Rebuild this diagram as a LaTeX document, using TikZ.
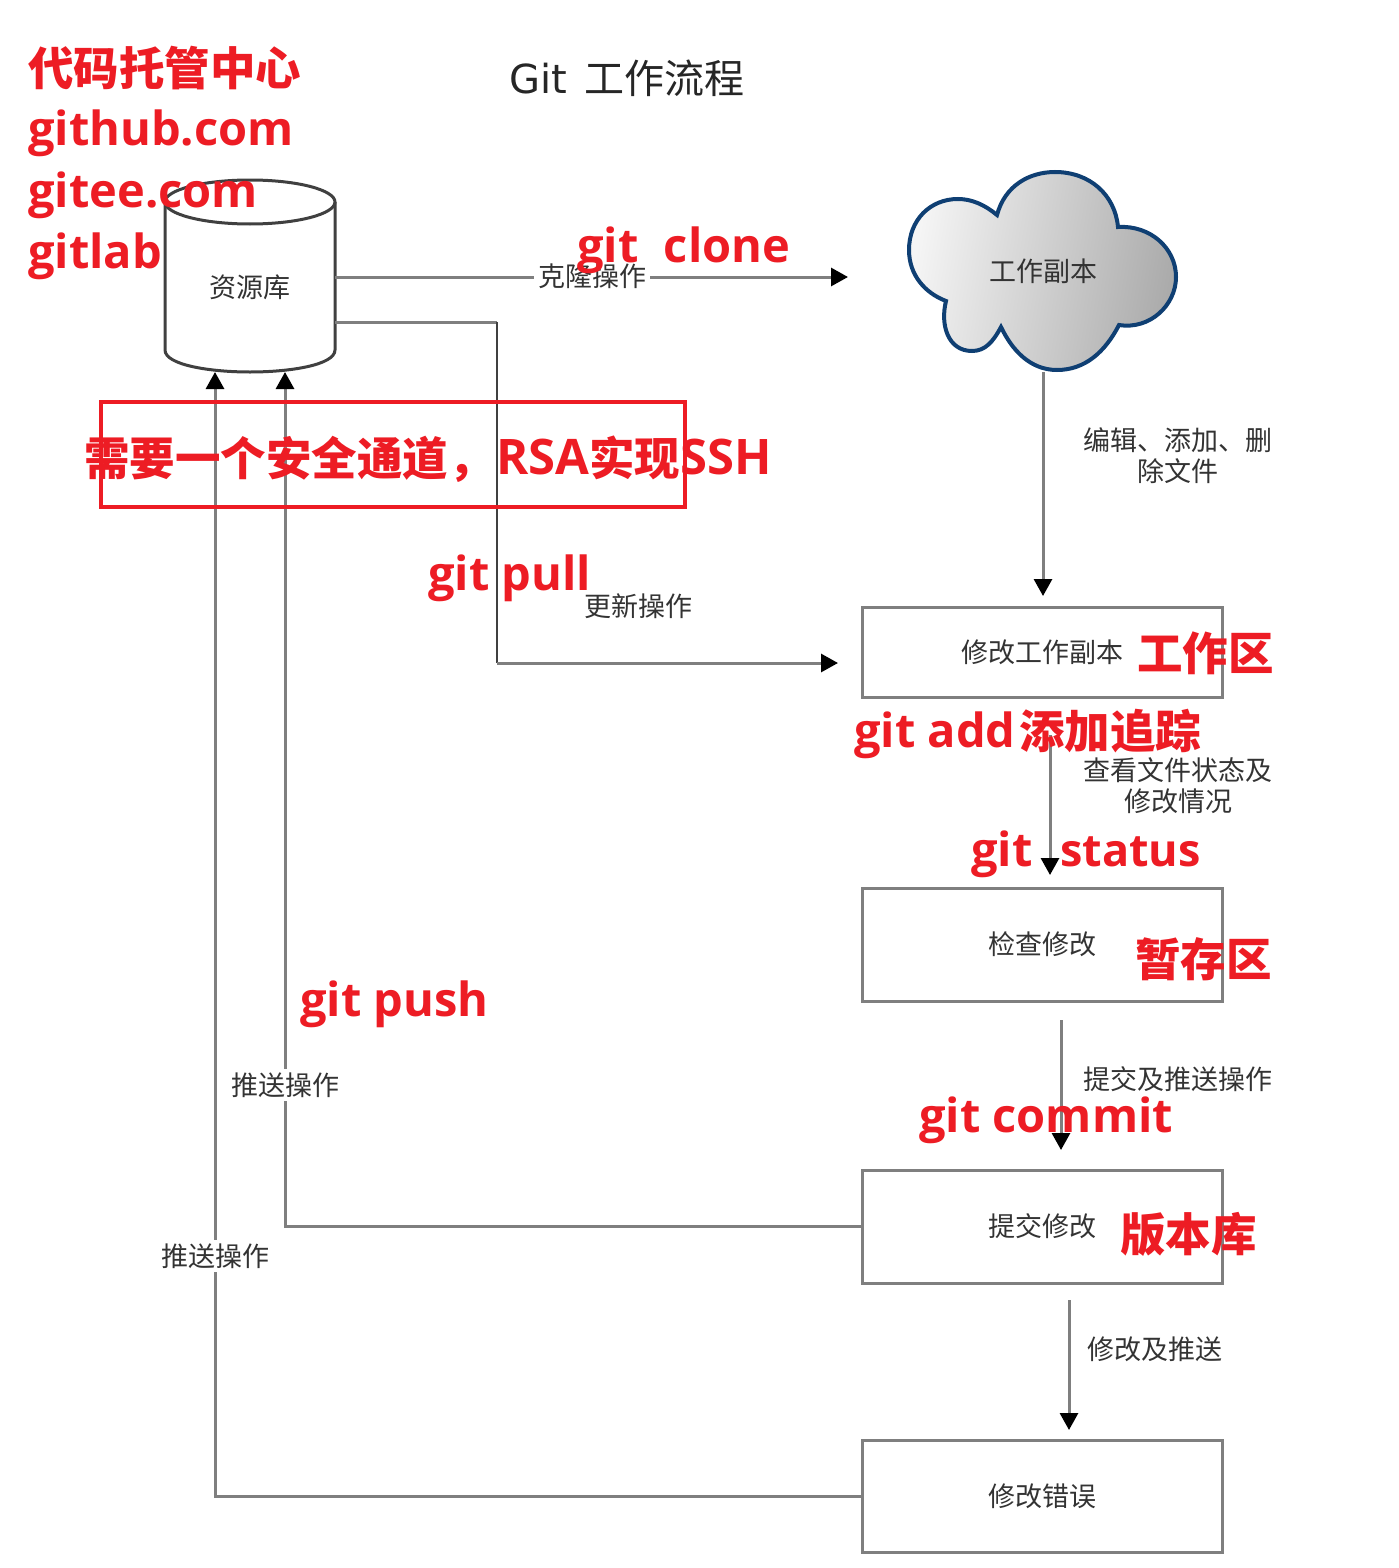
\documentclass[tikz,border=0pt]{standalone}
\usepackage{fontspec}
\usetikzlibrary{arrows.meta}
\setmainfont{DejaVu Sans}
\newfontfamily\cjkfont{Noto Sans CJK SC}
\newfontfamily\latfont{Open Sans}
\definecolor{noteRed}{HTML}{ED1C24}
\definecolor{lineGray}{HTML}{7F7F7F}
\definecolor{textGray}{HTML}{333333}
\definecolor{cloudBlue}{HTML}{0F3F73}
\tikzset{
  flow/.style={draw=lineGray,line width=3pt},
  flowarrow/.style={flow,-{Triangle[length=17pt,width=18pt,fill=black,color=black]}},
  workbox/.style={draw=lineGray,line width=3pt,minimum width=360pt,inner sep=0pt},
  label/.style={font=\cjkfont\fontsize{27}{31}\selectfont,text=textGray,align=center,inner sep=0pt},
  linelabel/.style={label,fill=white,inner sep=4pt},
  note/.style={anchor=base west,inner sep=0pt,text=noteRed,font=\bfseries\fontsize{45.5}{54}\selectfont\cjkfont},
  latnote/.style={anchor=base west,inner sep=0pt,text=noteRed,font=\bfseries\fontsize{47}{56}\selectfont\latfont},
  bignote/.style={latnote,font=\bfseries\fontsize{49}{56}\selectfont\latfont}
}
\begin{document}
\begin{tikzpicture}[x=1pt,y=-1pt]
  \useasboundingbox (0,0) rectangle (1398,1568);
  % repository and cloud
  \draw[black!75,line width=3pt] (250,202) ellipse [x radius=85,y radius=22];
  \draw[black!75,line width=3pt] (165,202) -- (165,350)
    .. controls (165,365) and (210,372) .. (250,372)
    .. controls (290,372) and (335,365) .. (335,350) -- (335,202);
  \node[label] (repo) at (250,287) {资源库};
  \draw[cloudBlue,line width=4pt,left color=black!4,right color=black!33,shading angle=80]
    (997,215) .. controls (1005,185) and (1030,172) .. (1055,172)
    .. controls (1090,172) and (1115,195) .. (1118,227)
    .. controls (1150,225) and (1176,248) .. (1176,277)
    .. controls (1176,305) and (1150,330) .. (1119,325)
    .. controls (1105,352) and (1085,370) .. (1057,370)
    .. controls (1030,370) and (1012,350) .. (1001,327)
    .. controls (993,342) and (985,351) .. (972,351)
    .. controls (948,351) and (940,325) .. (946,301)
    .. controls (925,293) and (909,275) .. (909,250)
    .. controls (909,220) and (930,199) .. (958,199)
    .. controls (972,199) and (985,205) .. (997,215) -- cycle;
  \node[label] (cloudtext) at (1043,271) {工作副本};
  % boxes
  \node[workbox,minimum height=90pt,label] (edit) at (1042.5,652) {修改工作副本};
  \node[workbox,minimum height=113pt,label] (check) at (1042.5,944.5) {检查修改};
  \node[workbox,minimum height=113pt,label] (commit) at (1042.5,1226.5) {提交修改};
  \node[workbox,minimum height=112pt,label] (fix) at (1042.5,1496) {修改错误};
  % free ends
  \coordinate (repoclone) at (335,277);
  \coordinate (clonetip) at (848,277);
  \coordinate (repopull) at (335,322);
  \coordinate (pullcorner) at (497,322);
  \coordinate (pulldown) at (497,663);
  \coordinate (pulltip) at (838,663);
  \coordinate (cloudout) at (1043,372);
  \coordinate (edittip) at (1043,596);
  \coordinate (editout) at (1050,735);
  \coordinate (checktip) at (1050,875);
  \coordinate (checkout) at (1061,1020);
  \coordinate (committip) at (1061,1150);
  \coordinate (commitout) at (1069,1300);
  \coordinate (fixtip) at (1069,1430);
  \coordinate (pushtip) at (285,372);
  \coordinate (fixpushtip) at (215,372);
  % connectors
  \draw[flowarrow] (repoclone) -- (clonetip);
  \draw[flow] (repopull) -- (pullcorner);
  \draw[flowarrow] (cloudout) -- (edittip);
  \draw[flowarrow] (editout) -- (checktip);
  \draw[flowarrow] (checkout) -- (committip);
  \draw[flowarrow] (commitout) -- (fixtip);
  \draw[flowarrow] (commit.west) -- (pushtip |- commit.west) -- (pushtip);
  \draw[flowarrow] (fix.west) -- (fixpushtip |- fix.west) -- (fixpushtip);
  \begin{scope}[line width=2pt]
    \draw[black!75] (pullcorner) -- (pulldown);
    \draw[flowarrow] (pulldown) -- (pulltip);
  \end{scope}
  % texts in gray
  \node[inner sep=0pt,anchor=base west,text=black!85,font=\fontsize{40}{44}\selectfont] (titlelat) at (509,94) {Git};
  \node[inner sep=0pt,anchor=base west,text=black!85,font=\cjkfont\fontsize{40}{48}\selectfont] (titlecjk) at (584,94) {工作流程};
  \node[linelabel] (clonelabel) at (592,276) {克隆操作};
  \node[label] (pulllabel) at (638,606) {更新操作};
  \node[label] (editlabel) at (1178,456) {编辑、添加、删\\除文件};
  \node[label] (statuslabel) at (1178,786) {查看文件状态及\\修改情况};
  \node[label] (commitlabel) at (1178,1079) {提交及推送操作};
  \node[label] (fixlabel) at (1155,1349) {修改及推送};
  \node[linelabel] (pushlabel) at (285,1085) {推送操作};
  \node[linelabel] (fixpushlabel) at (215,1256) {推送操作};
  % notes in red
  \node[draw=noteRed,line width=4pt,minimum width=584pt,minimum height=105pt,inner sep=0pt] (tunnel) at (393,454.5) {};
  \node[note] (center) at (28,86) {代码托管中心};
  \node[latnote] (hub) at (28,146) {github.com};
  \node[latnote] (gitee) at (28,207) {gitee.com};
  \node[latnote] (lab) at (28,268) {gitlab};
  \node[latnote] (clone) at (577,262) {git\hspace{1pt}\ \ clone};
  \node[note] (need) at (84,475) {需要一个安全通道，};
  \node[bignote] (rsa) at (496,474) {RSA};
  \node[note] (rsab) at (589,475) {实现};
  \node[bignote] (ssh) at (680,474) {SSH};
  \node[latnote] (pull) at (428,590) {git pull};
  \node[note] (workarea) at (1137,670) {工作区};
  \node[latnote] (add) at (854,747) {git add};
  \node[note] (addb) at (1019,748) {添加追踪};
  \node[latnote] (statusa) at (971,866) {git};
  \node[latnote,font=\bfseries\fontsize{45}{56}\selectfont\latfont] (statusb) at (1060,866) {status};
  \node[note] (stagearea) at (1135,976) {暂存区};
  \node[latnote] (push) at (300,1016) {git push};
  \node[latnote] (gitcommit) at (919,1132) {git commit};
  \node[note] (versionarea) at (1120,1251) {版本库};
\end{tikzpicture}
\end{document}
